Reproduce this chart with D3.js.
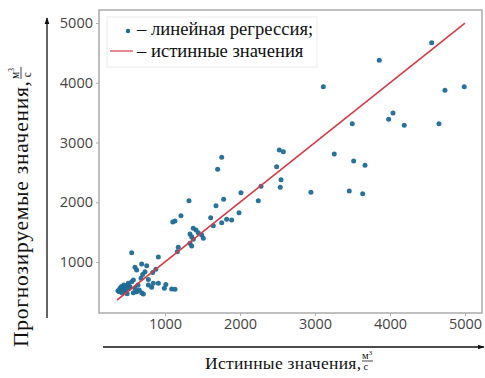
<!DOCTYPE html>
<html>
<head>
<meta charset="utf-8">
<script src="https://cdn.jsdelivr.net/npm/d3@7"></script>
<style>
  html, body { margin: 0; padding: 0; background: #fff; }
  svg { display: block; }
  .tick text { font-family: "Open Sans", sans-serif; font-size: 14.5px; fill: #444; }
  .tick line { stroke: #b0b0b0; }
  .serif { font-family: "Liberation Serif", "Times New Roman", serif; fill: #111; }
</style>
</head>
<body>
<svg id="chart" width="485" height="378"></svg>
<script>
// True flow (м³/с) against the linear-regression prediction.
const trueValues = [
  4556, 3857, 3111, 4733, 4990, 4040, 3982, 4190, 4653, 3497,
  2524, 2578, 3257, 2489, 3516, 3667, 2547, 2280, 2537, 2946,
  3457, 3636, 2244,
  1756, 1702, 2013, 1782, 1680, 1320, 1213, 1133, 1103, 1609,
  1987, 1822, 1889, 1756, 1644, 1377, 1413, 1444, 1489, 1511,
  1333, 1356, 1377, 1333, 1356, 1177, 1164,
  556, 911, 689, 756, 600, 878, 703, 836, 778, 911,
  1011, 822, 1133, 711, 578, 511, 556, 622, 733, 680,
  844, 991, 1089, 778, 640,
  373, 400, 420, 440, 460, 480, 500, 520, 430, 390,
  470, 622, 656, 689, 578, 600, 533, 410, 450, 495
];
const predictedValues = [
  4671, 4376, 3935, 3874, 3935, 3494, 3389, 3288, 3315, 3315,
  2875, 2846, 2808, 2595, 2691, 2619, 2378, 2267, 2250, 2167,
  2189, 2143, 2026,
  2753, 2552, 2160, 2050, 1942, 2026, 1775, 1686, 1670, 1742,
  1825, 1715, 1703, 1658, 1608, 1564, 1536, 1490, 1452, 1397,
  1469, 1424, 1380, 1313, 1268, 1246, 1172,
  1156, 1085, 967, 936, 911, 878, 790, 822, 707, 643,
  624, 576, 545, 464, 699, 643, 670, 866, 838, 727,
  643, 560, 548, 615, 615,
  520, 560, 590, 540, 575, 500, 610, 560, 480, 500,
  530, 503, 531, 486, 486, 560, 587, 545, 615, 470
];
// Reference line y = x over the range of true values.
const idealLine = [360, 5000];

const xTicks = [1000, 2000, 3000, 4000, 5000];
const yTicks = [1000, 2000, 3000, 4000, 5000];

const legendLabels = ["– линейная регрессия;", "– истинные значения"];
const xTitle = "Истинные значения,";
const yTitle = "Прогнозируемые значения,";

const pointColor = "#1f6a93";
const lineColor = "#d63a46";

const svg = d3.select("#chart");
const plot = { left: 99, right: 482, top: 10, bottom: 313 };

const x = d3.scaleLinear().domain([120, 5227]).range([plot.left, plot.right]);
const y = d3.scaleLinear().domain([146, 5218]).range([plot.bottom, plot.top]);

// Arrow markers for the outer axis arrows
const defs = svg.append("defs");
defs.append("marker")
  .attr("id", "arrow")
  .attr("viewBox", "0 0 10 10")
  .attr("refX", 9).attr("refY", 5)
  .attr("markerWidth", 7).attr("markerHeight", 7)
  .attr("markerUnits", "userSpaceOnUse")
  .attr("orient", "auto")
  .append("path").attr("d", "M0,1.5 L10,5 L0,8.5 Z").attr("fill", "#111");

// Axes
const xAxis = svg.append("g")
  .attr("transform", `translate(0,${plot.bottom})`)
  .call(d3.axisBottom(x).tickValues(xTicks).tickSize(3).tickPadding(3).tickFormat(d3.format("d")));
const yAxis = svg.append("g")
  .attr("transform", `translate(${plot.left},0)`)
  .call(d3.axisLeft(y).tickValues(yTicks).tickSize(3).tickPadding(3).tickFormat(d3.format("d")));
xAxis.select(".domain").remove();
yAxis.select(".domain").remove();

// Points
svg.append("g").selectAll("circle")
  .data(trueValues.map((t, i) => [t, predictedValues[i]]))
  .join("circle")
  .attr("cx", d => x(d[0]))
  .attr("cy", d => y(d[1]))
  .attr("r", 2.5)
  .attr("fill", pointColor)
  .attr("fill-opacity", 0.95);

// Ideal line
svg.append("line")
  .attr("x1", x(idealLine[0])).attr("y1", y(idealLine[0]))
  .attr("x2", x(idealLine[1])).attr("y2", y(idealLine[1]))
  .attr("stroke", lineColor).attr("stroke-width", 1.6);

// Plot frame
svg.append("rect")
  .attr("x", plot.left).attr("y", plot.top)
  .attr("width", plot.right - plot.left).attr("height", plot.bottom - plot.top)
  .attr("fill", "none").attr("stroke", "#ababab").attr("stroke-width", 1.5);

// Legend
const legend = svg.append("g");
legend.append("rect")
  .attr("x", 107).attr("y", 17).attr("width", 210).attr("height", 50)
  .attr("fill", "#fff").attr("stroke", "#ececec").attr("stroke-width", 1);
legend.append("circle").attr("cx", 128).attr("cy", 31).attr("r", 2.2).attr("fill", pointColor);
legend.append("line").attr("x1", 110).attr("x2", 133).attr("y1", 51).attr("y2", 51)
  .attr("stroke", lineColor).attr("stroke-width", 1.6).attr("stroke-opacity", 0.75);
legend.selectAll("text.lg")
  .data(legendLabels)
  .join("text")
  .attr("class", "serif lg")
  .attr("x", 137)
  .attr("y", (d, i) => 35 + i * 21.5)
  .attr("font-size", 18.6)
  .text(d => d);

// Outer axis arrows
svg.append("line")
  .attr("x1", 103).attr("y1", 347).attr("x2", 484).attr("y2", 347)
  .attr("stroke", "#111").attr("stroke-width", 1.3).attr("marker-end", "url(#arrow)");
svg.append("line")
  .attr("x1", 47).attr("y1", 318).attr("x2", 47).attr("y2", 18)
  .attr("stroke", "#111").attr("stroke-width", 1.3).attr("marker-end", "url(#arrow)");

// Unit fraction м³/с drawn after a title
function unitFraction(g, fs) {
  const num = g.append("text").attr("class", "serif").attr("font-size", fs)
    .attr("x", 0).attr("y", -2.5);
  num.append("tspan").text("м");
  num.append("tspan").attr("font-size", fs * 0.65).attr("dy", -fs * 0.38).text("3");
  g.append("line").attr("x1", 0).attr("x2", fs * 1.05).attr("y1", 0).attr("y2", 0)
    .attr("stroke", "#111").attr("stroke-width", 0.8);
  g.append("text").attr("class", "serif").attr("font-size", fs)
    .attr("x", fs * 0.15).attr("y", fs * 0.85).text("с");
}

// X title
svg.append("text").attr("class", "serif")
  .attr("x", 205).attr("y", 369).attr("font-size", 17.5)
  .attr("textLength", 156).attr("lengthAdjust", "spacing").text(xTitle);
unitFraction(svg.append("g").attr("transform", `translate(${205 + 157},361)`), 10.5);

// Y title (rotated)
const yg = svg.append("g").attr("transform", "translate(28,347) rotate(-90)");
yg.append("text").attr("class", "serif")
  .attr("x", 0).attr("y", 0).attr("font-size", 21.5)
  .attr("textLength", 266).attr("lengthAdjust", "spacing").text(yTitle);
unitFraction(yg.append("g").attr("transform", "translate(268,-7)"), 11.5);
</script>
</body>
</html>
